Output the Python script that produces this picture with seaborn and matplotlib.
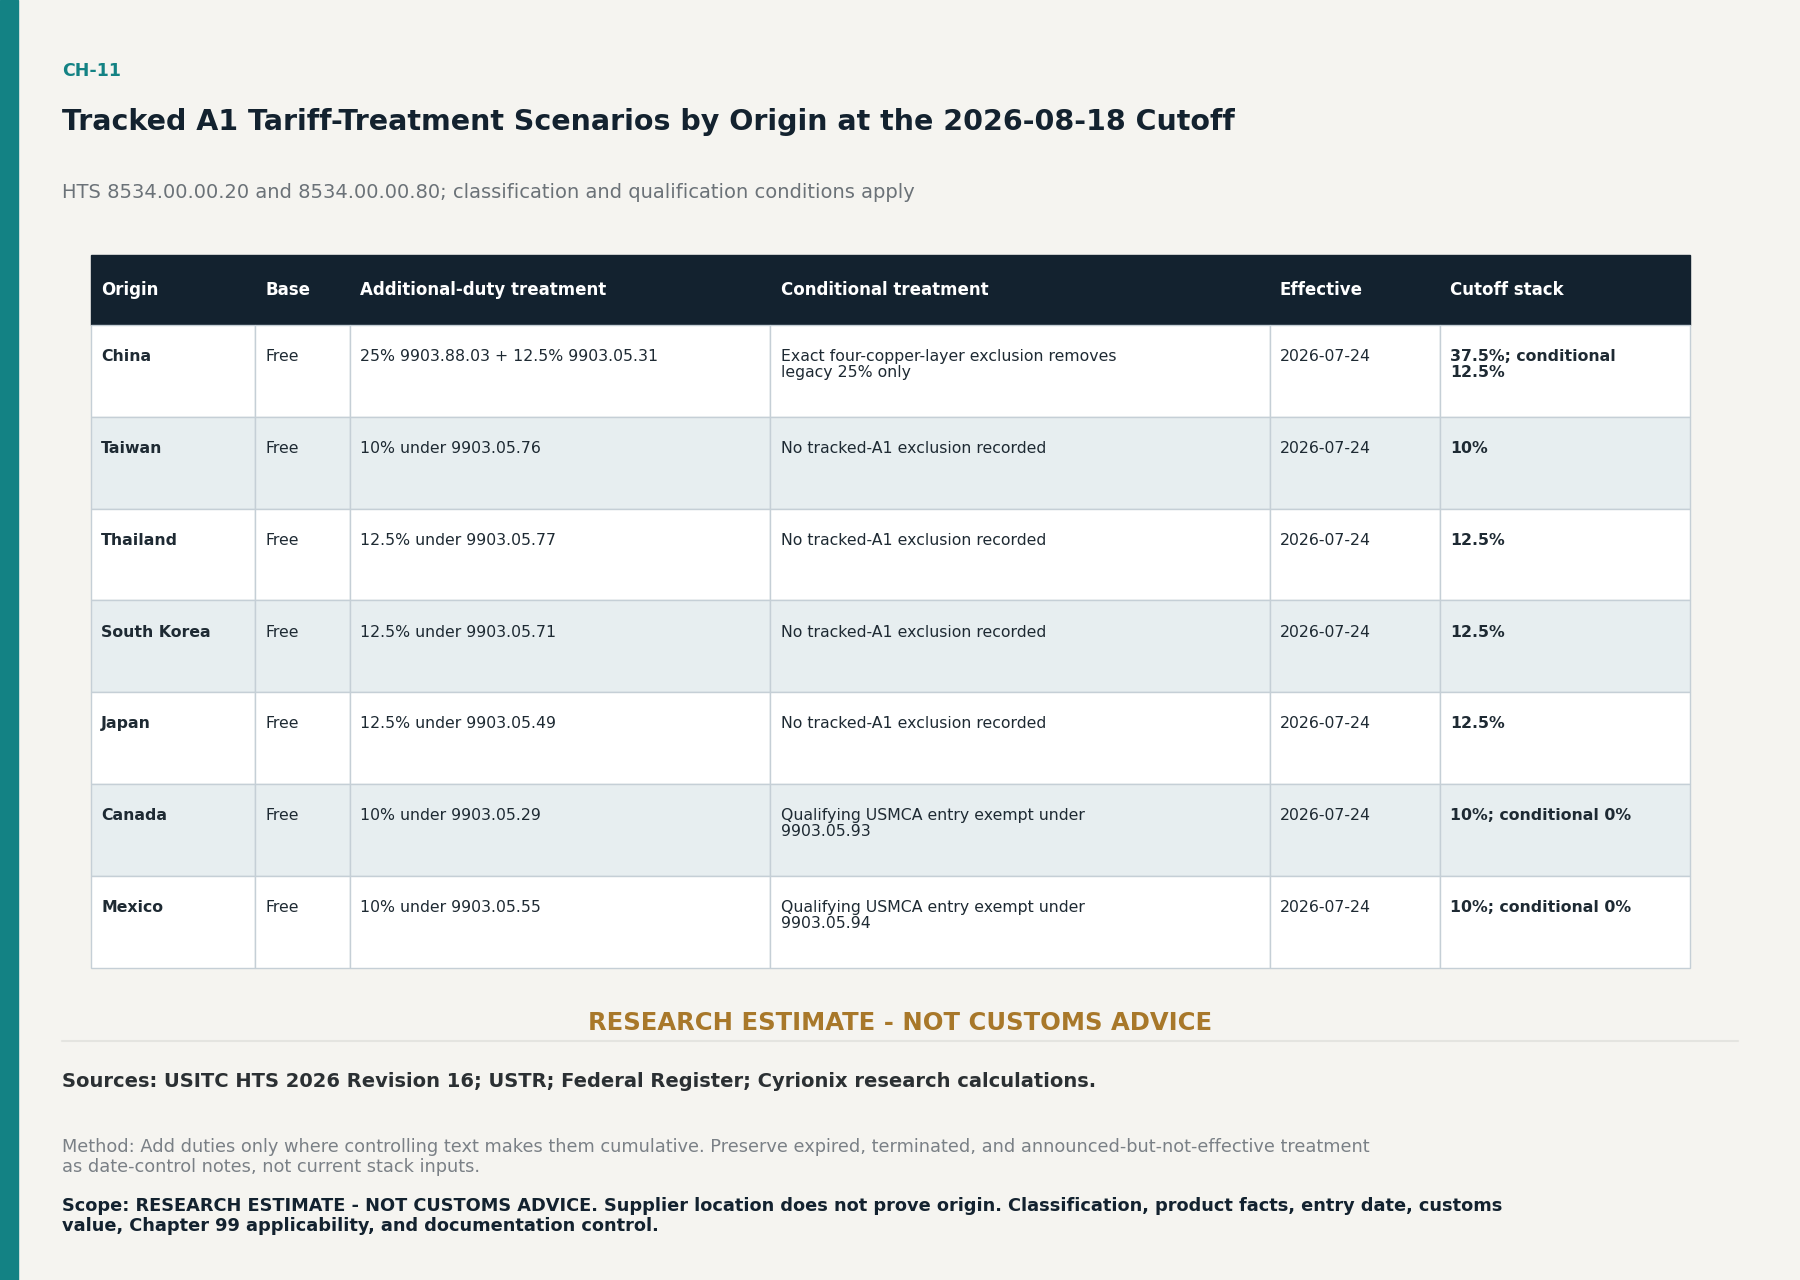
import matplotlib.pyplot as plt
import seaborn as sns
from matplotlib.patches import Rectangle

sns.set_theme(style='white')
plt.rcParams['font.family'] = ['DejaVu Sans']

# data
headers = ['Origin', 'Base', 'Additional-duty treatment', 'Conditional treatment', 'Effective', 'Cutoff stack']
origins = ['China', 'Taiwan', 'Thailand', 'South Korea', 'Japan', 'Canada', 'Mexico']
base = ['Free'] * 7
additional = ['25% 9903.88.03 + 12.5% 9903.05.31', '10% under 9903.05.76', '12.5% under 9903.05.77',
              '12.5% under 9903.05.71', '12.5% under 9903.05.49', '10% under 9903.05.29', '10% under 9903.05.55']
conditional = ['Exact four-copper-layer exclusion removes\nlegacy 25% only', 'No tracked-A1 exclusion recorded',
               'No tracked-A1 exclusion recorded', 'No tracked-A1 exclusion recorded',
               'No tracked-A1 exclusion recorded', 'Qualifying USMCA entry exempt under\n9903.05.93',
               'Qualifying USMCA entry exempt under\n9903.05.94']
effective = ['2026-07-24'] * 7
cutoff = ['37.5%; conditional\n12.5%', '10%', '12.5%', '12.5%', '12.5%', '10%; conditional 0%', '10%; conditional 0%']

# layout (reference pixel space 1568 x 1115)
col_edges = [79, 222, 305, 671, 1106, 1254, 1472]
table_top, header_h, row_h = 222, 61, 80
dark = '#13222f'
teal = '#138284'
grid_c = '#c5cfd6'

fig = plt.figure(figsize=(18, 12.8), dpi=100, facecolor='#f5f4f0')
ax = fig.add_axes([0, 0, 1, 1])
ax.set_xlim(0, 1568)
ax.set_ylim(1115, 0)
ax.axis('off')

ax.add_patch(Rectangle((0, 0), 16, 1115, color=teal))
ax.text(54, 62, 'CH-11', color=teal, fontsize=12.5, fontweight='bold', va='center')
ax.text(54, 106, 'Tracked A1 Tariff-Treatment Scenarios by Origin at the 2026-08-18 Cutoff',
        color=dark, fontsize=20.5, fontweight='bold', va='center')
ax.text(54, 168, 'HTS 8534.00.00.20 and 8534.00.00.80; classification and qualification conditions apply',
        color='#6b7278', fontsize=14, va='center')

# header
ax.add_patch(Rectangle((col_edges[0], table_top), col_edges[-1] - col_edges[0], header_h, color=dark))
for j, h in enumerate(headers):
    ax.text(col_edges[j] + 9, table_top + header_h / 2, h, color='white', fontsize=12,
            fontweight='bold', va='center')

columns = [origins, base, additional, conditional, effective, cutoff]
for i in range(len(origins)):
    y0 = table_top + header_h + i * row_h
    fc = 'white' if i % 2 == 0 else '#e7eef0'
    for j in range(len(columns)):
        ax.add_patch(Rectangle((col_edges[j], y0), col_edges[j + 1] - col_edges[j], row_h,
                               facecolor=fc, edgecolor=grid_c, lw=1))
        bold = j in (0, 5)
        ax.text(col_edges[j] + 9, y0 + 21, columns[j][i], color='#1e2a33', fontsize=11.3,
                fontweight='bold' if bold else 'normal', va='top', linespacing=1.05)

ax.text(784, 891, 'RESEARCH ESTIMATE - NOT CUSTOMS ADVICE', color='#a8782a', fontsize=17.5,
        fontweight='bold', ha='center', va='center')
ax.plot([54, 1514], [907, 907], color='#e4e4e0', lw=1.5)
ax.text(54, 942, 'Sources: USITC HTS 2026 Revision 16; USTR; Federal Register; Cyrionix research calculations.',
        color='#2b3033', fontsize=14, fontweight='bold', va='center')
ax.text(54, 1008, 'Method: Add duties only where controlling text makes them cumulative. Preserve expired, terminated, '
        'and announced-but-not-effective treatment\nas date-control notes, not current stack inputs.',
        color='#7a8086', fontsize=12.8, va='center', linespacing=1.15)
ax.text(54, 1059, 'Scope: RESEARCH ESTIMATE - NOT CUSTOMS ADVICE. Supplier location does not prove origin. '
        'Classification, product facts, entry date, customs\nvalue, Chapter 99 applicability, and documentation control.',
        color=dark, fontsize=12.8, fontweight='bold', va='center', linespacing=1.15)

fig.savefig('out.png', dpi=100, facecolor=fig.get_facecolor())
